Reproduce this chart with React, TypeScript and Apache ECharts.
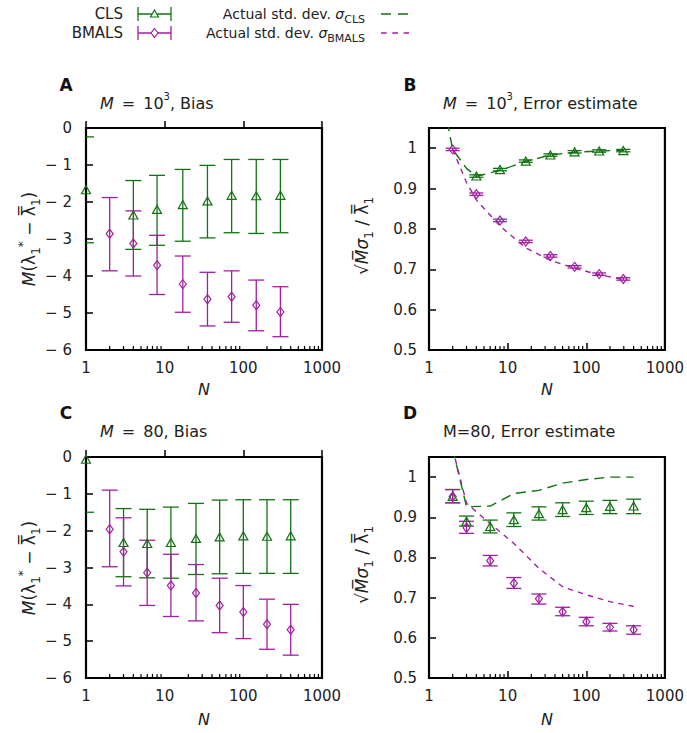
import { useEffect, useRef } from 'react';
import * as echarts from 'echarts';

const FONT = 'DejaVu Sans';
const GREEN = '#137313';
const PURPLE = '#a11fa1';
const INK = '#222';

// Minor tick positions of the log N axis
const X_MINOR_TICKS = [2, 3, 4, 5, 6, 7, 8, 9, 20, 30, 40, 50, 60, 70, 80, 90, 200, 300, 400, 500, 600, 700, 800, 900];

// ---------- Panel A: M = 10^3, Bias ----------
const A_CLS_N = [1, 4, 8, 17, 35, 71, 146, 296];
const A_CLS_MEAN = [-1.67, -2.35, -2.2, -2.07, -1.97, -1.82, -1.83, -1.82];
const A_CLS_LOW = [-3.1, -3.28, -3.17, -3.06, -2.97, -2.83, -2.85, -2.83];
const A_CLS_HIGH = [-0.24, -1.42, -1.28, -1.12, -1.01, -0.85, -0.85, -0.85];
const A_BMALS_N = [2, 4, 8, 17, 35, 71, 146, 296];
const A_BMALS_MEAN = [-2.86, -3.12, -3.71, -4.22, -4.63, -4.56, -4.79, -4.97];
const A_BMALS_LOW = [-3.86, -4.0, -4.5, -4.98, -5.35, -5.25, -5.48, -5.64];
const A_BMALS_HIGH = [-1.88, -2.24, -2.9, -3.46, -3.9, -3.86, -4.11, -4.29];

// ---------- Panel B: M = 10^3, Error estimate ----------
const B_CLS_N = [4, 8, 17, 35, 71, 146, 296];
const B_CLS_MEAN = [0.931, 0.947, 0.968, 0.983, 0.991, 0.993, 0.994];
const B_BMALS_N = [2, 4, 8, 17, 35, 71, 146, 296];
const B_BMALS_MEAN = [0.997, 0.886, 0.821, 0.769, 0.733, 0.706, 0.688, 0.676];
const B_ERR = 0.003;
const B_SIGMA_CLS_N = [1, 2, 3, 4, 8, 17, 35, 71, 146, 296];
const B_SIGMA_CLS = [1.3, 0.997, 0.95, 0.93, 0.945, 0.967, 0.983, 0.99, 0.993, 0.995];
const B_SIGMA_BMALS_N = [2, 3, 4, 8, 17, 35, 71, 146, 296];
const B_SIGMA_BMALS = [0.997, 0.915, 0.872, 0.807, 0.753, 0.722, 0.703, 0.686, 0.675];

// ---------- Panel C: M = 80, Bias ----------
const C_CLS_N = [1, 3, 6, 12, 25, 50, 100, 200, 400];
const C_CLS_MEAN = [-0.06, -2.32, -2.35, -2.32, -2.21, -2.17, -2.14, -2.15, -2.14];
const C_CLS_LOW = [-1.5, -3.25, -3.28, -3.29, -3.19, -3.17, -3.16, -3.16, -3.16];
const C_CLS_HIGH = [1.4, -1.4, -1.42, -1.36, -1.26, -1.17, -1.16, -1.16, -1.16];
const C_BMALS_N = [2, 3, 6, 12, 25, 50, 100, 200, 400];
const C_BMALS_MEAN = [-1.96, -2.57, -3.14, -3.49, -3.69, -4.03, -4.21, -4.54, -4.69];
const C_BMALS_LOW = [-2.98, -3.5, -4.03, -4.33, -4.45, -4.77, -4.93, -5.22, -5.38];
const C_BMALS_HIGH = [-0.9, -1.65, -2.26, -2.64, -2.92, -3.29, -3.49, -3.86, -4.0];

// ---------- Panel D: M = 80, Error estimate ----------
const D_CLS_N = [2, 3, 6, 12, 25, 50, 100, 200, 400];
const D_CLS_MEAN = [0.952, 0.89, 0.877, 0.894, 0.909, 0.919, 0.924, 0.927, 0.928];
const D_CLS_LOW = [0.936, 0.878, 0.861, 0.877, 0.893, 0.902, 0.907, 0.909, 0.909];
const D_CLS_HIGH = [0.969, 0.903, 0.893, 0.911, 0.926, 0.936, 0.94, 0.942, 0.945];
const D_BMALS_N = [2, 3, 6, 12, 25, 50, 100, 200, 400];
const D_BMALS_MEAN = [0.952, 0.874, 0.792, 0.736, 0.697, 0.665, 0.64, 0.626, 0.62];
const D_BMALS_LOW = [0.936, 0.86, 0.779, 0.723, 0.684, 0.655, 0.63, 0.617, 0.609];
const D_BMALS_HIGH = [0.969, 0.89, 0.805, 0.75, 0.709, 0.676, 0.651, 0.636, 0.63];
const D_SIGMA_N = [2, 3, 6, 12, 25, 50, 100, 200, 400];
const D_SIGMA_CLS = [1.07, 0.926, 0.928, 0.959, 0.967, 0.985, 0.994, 1.0, 1.0];
const D_SIGMA_BMALS = [1.07, 0.935, 0.884, 0.835, 0.773, 0.727, 0.707, 0.69, 0.678];

// ---------- Axes ----------
const X_MIN = 1;
const X_MAX = 1000;
const BIAS_Y = { min: -6, max: 0, interval: 1 };
const ERR_Y = { min: 0.5, max: 1.05, interval: 0.1 };

const GRIDS = [
  { left: 86, top: 128, width: 236, height: 222 },
  { left: 429, top: 128, width: 236, height: 222 },
  { left: 86, top: 457, width: 236, height: 221 },
  { left: 429, top: 457, width: 236, height: 221 },
];

function errBars(idx: number, n: number[], lo: number[], hi: number[], color: string, cap: number) {
  return {
    type: 'custom',
    xAxisIndex: idx,
    yAxisIndex: idx,
    silent: true,
    z: 3,
    data: n.map((x, i) => [x, lo[i], hi[i]]),
    encode: { x: 0, y: [1, 2] },
    renderItem: (params: any, api: any) => {
      const cs = params.coordSys;
      const x = api.value(0);
      const p1 = api.coord([x, api.value(1)]);
      const p2 = api.coord([x, api.value(2)]);
      const left = cs.x;
      const right = cs.x + cs.width;
      const top = cs.y;
      const bottom = cs.y + cs.height;
      const style = { stroke: color, lineWidth: 1.3, fill: null };
      const children: any[] = [];
      const ya = Math.max(top, Math.min(bottom, Math.min(p1[1], p2[1])));
      const yb = Math.max(top, Math.min(bottom, Math.max(p1[1], p2[1])));
      if (yb > ya && p1[0] > left + 1.5) {
        children.push({ type: 'line', shape: { x1: p1[0], y1: ya, x2: p1[0], y2: yb }, style });
      }
      for (const p of [p1, p2]) {
        if (p[1] < top - 0.5 || p[1] > bottom + 0.5) continue;
        const x1 = Math.max(left, p[0] - cap);
        const x2 = Math.min(right, p[0] + cap);
        children.push({ type: 'line', shape: { x1, y1: p[1], x2, y2: p[1] }, style });
      }
      return { type: 'group', children };
    },
  };
}

function markers(idx: number, n: number[], v: number[], color: string, symbol: string, size: number[]) {
  return {
    type: 'scatter',
    xAxisIndex: idx,
    yAxisIndex: idx,
    clip: false,
    silent: true,
    z: 4,
    symbol,
    symbolSize: size,
    itemStyle: { color: 'rgba(255,255,255,0)', borderColor: color, borderWidth: 1.2, opacity: 1 },
    data: n.map((x, i) => [x, v[i]]),
  };
}

function dashed(idx: number, n: number[], v: number[], color: string, dash: number[]) {
  return {
    type: 'line',
    xAxisIndex: idx,
    yAxisIndex: idx,
    showSymbol: false,
    symbol: 'none',
    clip: true,
    silent: true,
    z: 2,
    lineStyle: { color, width: 1.4, type: dash },
    data: n.map((x, i) => [x, v[i]]),
  };
}

function minorTicks(idx: number, yRef: number) {
  return {
    type: 'custom',
    xAxisIndex: idx,
    yAxisIndex: idx,
    silent: true,
    z: 5,
    data: X_MINOR_TICKS.map((v) => [v, yRef]),
    encode: { x: 0, y: 1 },
    renderItem: (params: any, api: any) => {
      const cs = params.coordSys;
      const x = api.coord([api.value(0), api.value(1)])[0];
      const b = cs.y + cs.height;
      return { type: 'line', shape: { x1: x, y1: b, x2: x, y2: b - 4 }, style: { stroke: '#000', lineWidth: 1.2 } };
    },
  };
}

const GREEN_DASH = [10, 6];
const PURPLE_DASH = [5.5, 5];

function xAxis(idx: number) {
  return {
    gridIndex: idx,
    type: 'log',
    logBase: 10,
    min: X_MIN,
    max: X_MAX,
    name: 'N',
    nameLocation: 'middle',
    nameGap: idx < 2 ? 31 : 33,
    nameTextStyle: { fontFamily: FONT, fontSize: 16, fontStyle: 'italic', color: INK },
    axisLine: { show: false },
    axisTick: { show: true, inside: true, length: 7, lineStyle: { color: '#000', width: 1.5 } },
    axisLabel: { fontFamily: FONT, fontSize: 15, color: INK, margin: 10, formatter: (v: number) => String(Math.round(v)) },
    splitLine: { show: false },
  };
}

function yAxis(idx: number, bias: boolean) {
  const r = bias ? BIAS_Y : ERR_Y;
  return {
    gridIndex: idx,
    type: 'value',
    min: r.min,
    max: r.max,
    interval: r.interval,
    axisLine: { show: false },
    axisTick: { show: true, inside: true, length: 7, lineStyle: { color: '#000', width: 1.5 } },
    axisLabel: {
      fontFamily: FONT,
      fontSize: 15,
      color: INK,
      margin: bias ? 14 : 12,
      formatter: bias
        ? (v: number) => (v < 0 ? '\u2212 ' + String(Math.abs(Math.round(v))) : '0')
        : (v: number) => (v > 1.001 ? '' : Math.abs(v - 1) < 1e-6 ? '1' : v.toFixed(1)),
    },
    splitLine: { show: false },
  };
}

const TRI = [9, 8];
const DIA = [7, 9];

const txt = (x: number, y: number, text: string, extra: any = {}, rotation = 0) => ({
  type: 'text',
  x,
  y,
  rotation,
  silent: true,
  style: {
    text,
    fontFamily: FONT,
    fontSize: 16,
    fill: INK,
    align: 'left',
    verticalAlign: 'middle',
    ...extra,
  },
});

const mkRich = (size: number, small: number) => ({
  i: { fontStyle: 'italic', fontFamily: FONT, fontSize: size, fill: INK, lineHeight: size + 8, verticalAlign: 'middle' },
  n: { fontFamily: FONT, fontSize: size, fill: INK, lineHeight: size + 8, verticalAlign: 'middle' },
  sup: { fontFamily: FONT, fontSize: small, fill: INK, lineHeight: size + 8, verticalAlign: 'top' },
  sub: { fontFamily: FONT, fontSize: small, fill: INK, lineHeight: size + 6, verticalAlign: 'bottom' },
});

const TITLE_RICH = mkRich(16, 10);
const LEGEND_RICH = mkRich(14, 11);
const YNAME_RICH = mkRich(17, 12);

function legendBar(y: number, color: string, kind: 'tri' | 'dia') {
  const s = { stroke: color, lineWidth: 1.3, fill: null };
  const cx = 154.5;
  const shape =
    kind === 'tri'
      ? { type: 'polygon', shape: { points: [[cx, y - 4], [cx + 4, y + 3], [cx - 4, y + 3]] }, style: { stroke: color, lineWidth: 1.2, fill: '#fff' } }
      : { type: 'polygon', shape: { points: [[cx, y - 4.5], [cx + 3.5, y], [cx, y + 4.5], [cx - 3.5, y]] }, style: { stroke: color, lineWidth: 1.2, fill: '#fff' } };
  return [
    { type: 'line', silent: true, shape: { x1: 138, y1: y, x2: 171, y2: y }, style: s },
    { type: 'line', silent: true, shape: { x1: 138, y1: y - 7, x2: 138, y2: y + 7 }, style: s },
    { type: 'line', silent: true, shape: { x1: 171, y1: y - 7, x2: 171, y2: y + 7 }, style: s },
    { ...shape, silent: true },
  ];
}

function buildOption() {
  const series: any[] = [
    // A
    errBars(0, A_CLS_N, A_CLS_LOW, A_CLS_HIGH, GREEN, 8),
    errBars(0, A_BMALS_N, A_BMALS_LOW, A_BMALS_HIGH, PURPLE, 8),
    markers(0, A_CLS_N, A_CLS_MEAN, GREEN, 'triangle', TRI),
    markers(0, A_BMALS_N, A_BMALS_MEAN, PURPLE, 'diamond', DIA),
    minorTicks(0, BIAS_Y.min),
    // B
    dashed(1, B_SIGMA_CLS_N, B_SIGMA_CLS, GREEN, GREEN_DASH),
    dashed(1, B_SIGMA_BMALS_N, B_SIGMA_BMALS, PURPLE, PURPLE_DASH),
    errBars(1, B_CLS_N, B_CLS_MEAN.map((v) => v - B_ERR), B_CLS_MEAN.map((v) => v + B_ERR), GREEN, 7),
    errBars(1, B_BMALS_N, B_BMALS_MEAN.map((v) => v - B_ERR), B_BMALS_MEAN.map((v) => v + B_ERR), PURPLE, 7),
    markers(1, B_CLS_N, B_CLS_MEAN, GREEN, 'triangle', TRI),
    markers(1, B_BMALS_N, B_BMALS_MEAN, PURPLE, 'diamond', DIA),
    minorTicks(1, ERR_Y.min),
    // C
    errBars(2, C_CLS_N, C_CLS_LOW, C_CLS_HIGH, GREEN, 8),
    errBars(2, C_BMALS_N, C_BMALS_LOW, C_BMALS_HIGH, PURPLE, 8),
    markers(2, C_CLS_N, C_CLS_MEAN, GREEN, 'triangle', TRI),
    markers(2, C_BMALS_N, C_BMALS_MEAN, PURPLE, 'diamond', DIA),
    minorTicks(2, BIAS_Y.min),
    // D
    dashed(3, D_SIGMA_N, D_SIGMA_CLS, GREEN, GREEN_DASH),
    dashed(3, D_SIGMA_N, D_SIGMA_BMALS, PURPLE, PURPLE_DASH),
    errBars(3, D_CLS_N, D_CLS_LOW, D_CLS_HIGH, GREEN, 7.5),
    errBars(3, D_BMALS_N, D_BMALS_LOW, D_BMALS_HIGH, PURPLE, 7.5),
    markers(3, D_CLS_N, D_CLS_MEAN, GREEN, 'triangle', TRI),
    markers(3, D_BMALS_N, D_BMALS_MEAN, PURPLE, 'diamond', DIA),
    minorTicks(3, ERR_Y.min),
  ];

  const biasLabel = '{i|M}{n|(\u03bb}{sub|1}{sup|*}{n| \u2212 \u03bb\u033f}{sub|1}{n|)}';
  const errLabel = '{n|\u221a}{i|M\u0305\u03c3}{sub|1}{n| / \u03bb\u033f}{sub|1}';
  const EQ = '\u2002=\u2002';

  const graphic: any[] = [
    // legend
    txt(123, 14, 'CLS', { align: 'right', fontSize: 15 }),
    txt(123, 33, 'BMALS', { align: 'right', fontSize: 15 }),
    ...legendBar(14, GREEN, 'tri'),
    ...legendBar(33, PURPLE, 'dia'),
    txt(365, 14, '{n|Actual std. dev. }{i|\u03c3}{sub|CLS}', { align: 'right', rich: LEGEND_RICH }),
    txt(365, 33, '{n|Actual std. dev. }{i|\u03c3}{sub|BMALS}', { align: 'right', rich: LEGEND_RICH }),
    { type: 'line', silent: true, shape: { x1: 381, y1: 14, x2: 409, y2: 14 }, style: { stroke: GREEN, lineWidth: 1.4, lineDash: [10, 7] } },
    { type: 'line', silent: true, shape: { x1: 381, y1: 33, x2: 409, y2: 33 }, style: { stroke: PURPLE, lineWidth: 1.4, lineDash: [5.7, 5.6] } },
    // panel letters
    txt(66, 85, 'A', { align: 'center', fontWeight: 'bold', fontSize: 17, fill: '#111' }),
    txt(410, 85, 'B', { align: 'center', fontWeight: 'bold', fontSize: 17, fill: '#111' }),
    txt(66, 413, 'C', { align: 'center', fontWeight: 'bold', fontSize: 17, fill: '#111' }),
    txt(410, 413, 'D', { align: 'center', fontWeight: 'bold', fontSize: 17, fill: '#111' }),
    // titles
    txt(100, 103, '{i|M}{n|' + EQ + '10}{sup|3}{n|, Bias}', { rich: TITLE_RICH }),
    txt(443, 103, '{i|M}{n|' + EQ + '10}{sup|3}{n|, Error estimate}', { rich: TITLE_RICH }),
    txt(100, 431, '{i|M}{n|' + EQ + '80, Bias}', { rich: TITLE_RICH }),
    txt(443, 431, 'M=80, Error estimate', { fontSize: 16 }),
    // y-axis names
    txt(29, 239, biasLabel, { align: 'center', rich: YNAME_RICH }, Math.PI / 2),
    txt(362, 236, errLabel, { align: 'center', rich: YNAME_RICH }, Math.PI / 2),
    txt(29, 568, biasLabel, { align: 'center', rich: YNAME_RICH }, Math.PI / 2),
    txt(362, 565, errLabel, { align: 'center', rich: YNAME_RICH }, Math.PI / 2),
  ];

  return {
    animation: false,
    backgroundColor: '#fff',
    textStyle: { fontFamily: FONT },
    grid: GRIDS.map((g) => ({ ...g, show: true, borderColor: '#000', borderWidth: 2.2, backgroundColor: 'rgba(0,0,0,0)', containLabel: false })),
    xAxis: [0, 1, 2, 3].map((i) => xAxis(i)),
    yAxis: [yAxis(0, true), yAxis(1, false), yAxis(2, true), yAxis(3, false)],
    series,
    graphic,
  };
}

export default function App() {
  const ref = useRef<HTMLDivElement>(null);
  useEffect(() => {
    if (!ref.current) return;
    const chart = echarts.init(ref.current, null, { renderer: 'svg' });
    chart.setOption(buildOption() as any);
    return () => chart.dispose();
  }, []);
  return (
    <div
      ref={ref}
      style={{ position: 'fixed', left: 0, top: 0, width: 687, height: 733, background: '#fff' }}
    />
  );
}
